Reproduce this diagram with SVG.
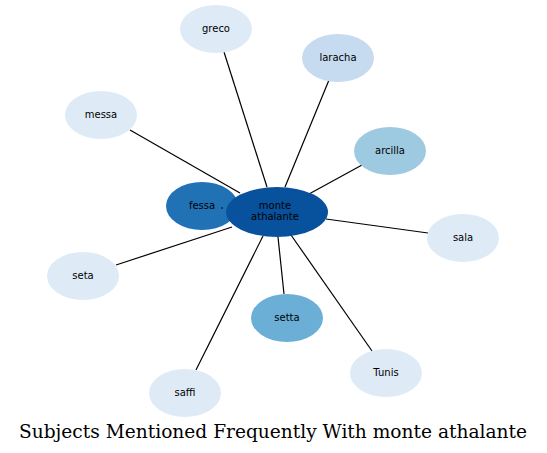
<svg xmlns="http://www.w3.org/2000/svg" width="547" height="453" viewBox="0 0 547 453">
<style>
.e{stroke:#000;stroke-width:1.2;fill:none}
.l{font-family:"DejaVu Sans",sans-serif;font-size:10px;text-anchor:middle;fill:#000}
.t{font-family:"DejaVu Serif",serif;font-size:18.6px;text-anchor:middle;fill:#000}
</style>
<rect width="547" height="453" fill="#fff"/>
<g id="connectors">
<line class="e" x1="224" y1="52" x2="267" y2="187"/>
<line class="e" x1="329" y1="80" x2="285" y2="187"/>
<line class="e" x1="130" y1="130" x2="240" y2="193"/>
<line class="e" x1="362" y1="165" x2="309" y2="194"/>
<line class="e" x1="428" y1="233" x2="326" y2="219"/>
<line class="e" x1="116" y1="265" x2="232" y2="227"/>
<line class="e" x1="284" y1="294" x2="278" y2="237"/>
<line class="e" x1="372" y1="351" x2="291" y2="235"/>
<line class="e" x1="196" y1="370" x2="263" y2="236"/>
</g>
<g id="greco"><ellipse cx="216" cy="29" rx="36" ry="24" fill="#deebf7"/><text class="l" x="216" y="32">greco</text></g>
<g id="laracha"><ellipse cx="338" cy="58" rx="36" ry="24" fill="#c6dbef"/><text class="l" x="338" y="61">laracha</text></g>
<g id="messa"><ellipse cx="101" cy="115" rx="36" ry="24" fill="#deebf7"/><text class="l" x="101" y="118">messa</text></g>
<g id="arcilla"><ellipse cx="390" cy="151" rx="36" ry="24" fill="#9ecae1"/><text class="l" x="390" y="154">arcilla</text></g>
<g id="sala"><ellipse cx="463" cy="238" rx="36" ry="24" fill="#deebf7"/><text class="l" x="463" y="241">sala</text></g>
<g id="seta"><ellipse cx="83" cy="276" rx="36" ry="24" fill="#deebf7"/><text class="l" x="83" y="279">seta</text></g>
<g id="setta"><ellipse cx="287" cy="318" rx="36" ry="24" fill="#6baed6"/><text class="l" x="287" y="321">setta</text></g>
<g id="Tunis"><ellipse cx="386" cy="373" rx="36" ry="24" fill="#deebf7"/><text class="l" x="386" y="376">Tunis</text></g>
<g id="saffi"><ellipse cx="185" cy="393" rx="36" ry="24" fill="#deebf7"/><text class="l" x="185" y="396">saffi</text></g>
<g id="fessa"><ellipse cx="202" cy="206" rx="36" ry="24" fill="#2171b5"/><text class="l" x="202" y="209">fessa</text><line class="e" x1="221" y1="208" x2="223" y2="208"/></g>
<g id="monte_athalante"><ellipse cx="277" cy="212" rx="51" ry="25" fill="#08519c"/><text class="l" x="275" y="209">monte</text><text class="l" x="275" y="220">athalante</text></g>
<text class="t" x="273" y="438">Subjects Mentioned Frequently With monte athalante</text>
</svg>
